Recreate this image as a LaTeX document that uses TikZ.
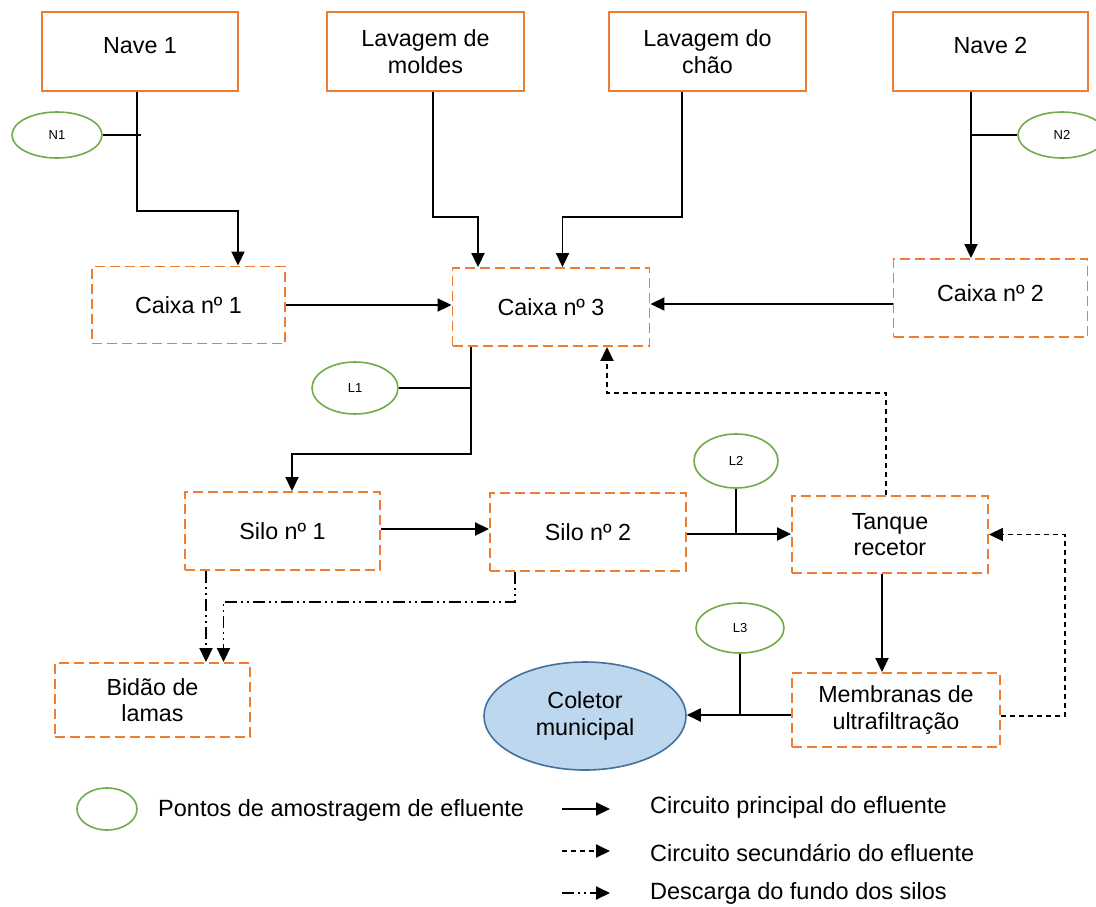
\documentclass[tikz,border=0pt]{standalone}
\usepackage{fontspec}
\setmainfont{Liberation Sans}
\usetikzlibrary{arrows.meta,calc,shapes.geometric}
\definecolor{boxorange}{HTML}{ED7D31}
\definecolor{ptgreen}{HTML}{70AD47}
\definecolor{colfill}{HTML}{BDD7EE}
\definecolor{colline}{HTML}{41719C}
\tikzset{
  src/.style={draw=boxorange, line width=1.9pt, rectangle, inner sep=0pt,
    align=center, font=\fontsize{23.3}{26.5}\selectfont},
  tank/.style={src, dash pattern=on 10pt off 5pt},
  spot/.style={draw=ptgreen, line width=1.6pt, ellipse, inner sep=0pt,
    font=\fontsize{13}{15}\selectfont},
  flow/.style={draw=black, line width=1.9pt, -{Triangle[length=14pt,width=13pt]}},
  back/.style={flow, dash pattern=on 5pt off 4pt},
  purge/.style={flow, dash pattern=on 12pt off 4pt on 2pt off 4pt on 2pt off 4pt},
  tap/.style={draw=black, line width=1.9pt},
  legtext/.style={anchor=west, inner sep=0pt, font=\fontsize{23.5}{26}\selectfont},
}
\begin{document}
\begin{tikzpicture}[x=1pt,y=-1pt]
\fill[white] (0,0) rectangle (1096,906);
\useasboundingbox (0,0) rectangle (1096,906);

% sources
\node[src, minimum width=196, minimum height=79, text depth=12pt] (nave1) at (140,51.5) {Nave 1};
\node[src, minimum width=197, minimum height=79] (lavm) at (425.5,51.5) {Lavagem de\\moldes};
\node[src, minimum width=197, minimum height=79] (lavc) at (707.5,51.5) {Lavagem do\\chão};
\node[src, minimum width=195, minimum height=79, text depth=12pt] (nave2) at (990.5,51.5) {Nave 2};

% boxes and silos
\node[tank, minimum width=193, minimum height=77] (cx1) at (188.5,305) {Caixa nº 1};
\node[tank, minimum width=197, minimum height=78] (cx3) at (551,307) {Caixa nº 3};
\node[tank, minimum width=194, minimum height=78, text depth=10pt] (cx2) at (990.5,298) {Caixa nº 2};
\node[tank, minimum width=195, minimum height=78] (silo1) at (282.5,531) {Silo nº 1};
\node[tank, minimum width=196, minimum height=78] (silo2) at (588,532) {Silo nº 2};
\node[tank, minimum width=196, minimum height=77] (tanque) at (890,534.5) {Tanque\\recetor};
\node[tank, minimum width=208, minimum height=74] (membr) at (896,710) {Membranas de\\ultrafiltração};
\node[tank, minimum width=195, minimum height=74] (bidao) at (152.5,700) {Bidão de\\lamas};
\node[ellipse, draw=colline, fill=colfill, line width=1.6pt, inner sep=0pt,
  minimum width=202, minimum height=108, align=center,
  font=\fontsize{23.3}{26.5}\selectfont] (coletor) at (585,716) {Coletor\\municipal};

% sampling points
\node[spot, minimum width=90, minimum height=46] (n1) at (57,135) {N1};
\node[spot, minimum width=88, minimum height=46] (n2) at (1062,135) {N2};
\node[spot, minimum width=86, minimum height=52] (l1) at (355,388) {L1};
\node[spot, minimum width=84, minimum height=54] (l2) at (736,461) {L2};
\node[spot, minimum width=88, minimum height=50] (l3) at (740,628) {L3};

% main effluent circuit
\draw[flow] ([xshift=-3pt]nave1.south) -- ++(0,119) -| ([xshift=49.5pt]cx1.north);
\draw[tap] (n1.east) -- ++(38,0);
\draw[flow] ([xshift=7.5pt]lavm.south) -- ++(0,125) -| ([xshift=-73pt]cx3.north);
\draw[flow] ([xshift=-25.5pt]lavc.south) -- ++(0,125) -| ([xshift=11.5pt]cx3.north);
\draw[flow] ([xshift=-19.5pt]nave2.south) -- ([xshift=-19.5pt]nave2.south |- cx2.north);
\draw[tap] (n2.west) -- ++(-47,0);
\draw[flow] (cx1.east) -- (cx1.east -| cx3.west);
\draw[flow] ([yshift=-6pt]cx2.west) -- ([yshift=-6pt]cx2.west -| cx3.east);
\draw[flow] ([xshift=-80pt]cx3.south) -- ++(0,107) -| ([xshift=9.5pt]silo1.north);
\draw[tap] (l1.east) -- ++(73,0);
\draw[flow] ([yshift=2pt]silo1.east) -- ([yshift=2pt]silo1.east -| silo2.west);
\draw[flow] ([yshift=-2pt]silo2.east) -- ([yshift=-2pt]silo2.east -| tanque.west);
\draw[tap] (l2.south) -- (l2.south |- tanque.west);
\draw[flow] ([xshift=-8pt]tanque.south) -- ([xshift=-8pt]tanque.south |- membr.north);
\draw[flow] ([yshift=-5pt]membr.west) -- ([yshift=-5pt]membr.west -| coletor.east);
\draw[tap] (l3.south) -- ++(0,62);

% secondary circuit
\draw[back] ([xshift=-4pt]tanque.north) -- ++(0,-102) -| ([xshift=56pt]cx3.south);
\draw[back] ([yshift=-6pt]membr.east) -- ++(64,0) |- (tanque.east);

% silo bottom discharge
\draw[purge] ([xshift=-76.5pt]silo1.south) -- ([xshift=-76.5pt]silo1.south |- bidao.north);
\draw[purge] ([xshift=-73pt]silo2.south) -- ++(0,30) -| ([xshift=71pt]bidao.north);

% legend
\node[spot, minimum width=60, minimum height=42] (lgpt) at (107,809) {};
\node[legtext] (lgpttx) at (158,810) {Pontos de amostragem de efluente};
\coordinate (lg1a) at (562,809); \coordinate (lg1b) at (610,809);
\coordinate (lg2a) at (562,851); \coordinate (lg2b) at (610,851);
\coordinate (lg3a) at (562,893); \coordinate (lg3b) at (610,893);
\draw[flow] (lg1a) -- (lg1b);
\draw[back] (lg2a) -- (lg2b);
\draw[purge] (lg3a) -- (lg3b);
\node[legtext] (lg1tx) at (650,807) {Circuito principal do efluente};
\node[legtext] (lg2tx) at (650,853) {Circuito secundário do efluente};
\node[legtext] (lg3tx) at (650,893) {Descarga do fundo dos silos};
\end{tikzpicture}
\end{document}
